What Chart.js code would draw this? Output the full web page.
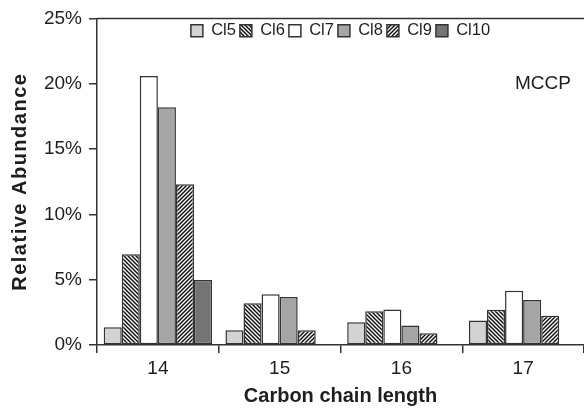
<!DOCTYPE html>
<html>
<head>
<meta charset="utf-8">
<script src="https://cdn.jsdelivr.net/npm/chart.js@4.4.1/dist/chart.umd.min.js"></script>
<style>
  html, body { margin: 0; padding: 0; background: #fff; }
  #wrap { width: 584px; height: 412px; }
</style>
</head>
<body>
<div id="wrap"><canvas id="chart" width="584" height="412"></canvas></div>
<script>
// relative abundance (%) of chlorine homologues per carbon chain length
const categories = ["14", "15", "16", "17"];
const seriesNames = ["Cl5", "Cl6", "Cl7", "Cl8", "Cl9", "Cl10"];
const cl5 = [1.35, 1.13, 1.75, 1.88];
const cl6 = [6.95, 3.19, 2.58, 2.7];
const cl7 = [20.6, 3.89, 2.71, 4.16];
const cl8 = [18.2, 3.67, 1.5, 3.44];
const cl9 = [12.3, 1.13, 0.9, 2.23];
const cl10 = [4.97, null, null, null];
const yTicks = [0, 5, 10, 15, 20, 25];

const FONT = "'Liberation Sans', Arial, sans-serif";
const INK = "#1e1e1e";
const LINE = "#333";

// diagonal hatch fill, "back" = \\\ , otherwise ///
function hatch(dir) {
  const s = 4;
  const c = document.createElement("canvas");
  c.width = c.height = s;
  const g = c.getContext("2d");
  g.fillStyle = "#fff";
  g.fillRect(0, 0, s, s);
  g.strokeStyle = "#111";
  g.lineWidth = 1.5;
  g.beginPath();
  if (dir === "back") {
    g.moveTo(-1, -1); g.lineTo(s + 1, s + 1);
    g.moveTo(-1, s - 1); g.lineTo(1, s + 1);
    g.moveTo(s - 1, -1); g.lineTo(s + 1, 1);
  } else {
    g.moveTo(-1, s + 1); g.lineTo(s + 1, -1);
    g.moveTo(-1, 1); g.lineTo(1, -1);
    g.moveTo(s - 1, s + 1); g.lineTo(s + 1, s - 1);
  }
  g.stroke();
  return g.createPattern(c, "repeat");
}

const values = [cl5, cl6, cl7, cl8, cl9, cl10];
const fills = ["#d3d3d3", hatch("back"), "#ffffff", "#a5a5a5", hatch("fwd"), "#747474"];

// legend inside the plot, top frame line, MCCP label
const extras = {
  id: "extras",
  afterInit(chart) {
    // legend takes no layout height, so the plot starts right under the padding
    const lg = chart.legend;
    if (lg) {
      const fit = lg.fit;
      lg.fit = function () {
        fit.call(this);
        this._realHeight = this.height;
        this.height = 0;
      };
    }
  },
  afterLayout(chart) {
    const lg = chart.legend;
    if (lg && lg._realHeight) {
      lg.height = lg._realHeight;
      lg.bottom = lg.top + lg.height;
    }
  },
  beforeDraw(chart) {
    const y = chart.scales.y;
    if (y && !y._spaced) {
      const orig = y.drawTitle;
      y.drawTitle = function () {
        const c = this.ctx;
        const prev = c.letterSpacing;
        c.letterSpacing = "1.5px";
        orig.call(this);
        c.letterSpacing = prev;
      };
      y._spaced = true;
    }
  },
  afterDraw(chart) {
    const { ctx, chartArea } = chart;
    ctx.save();
    ctx.strokeStyle = LINE;
    ctx.lineWidth = 1.5;
    ctx.beginPath();
    ctx.moveTo(chartArea.left, chartArea.top);
    ctx.lineTo(chart.width, chartArea.top);
    ctx.stroke();
    ctx.fillStyle = INK;
    ctx.font = "19px " + FONT;
    ctx.textBaseline = "middle";
    ctx.fillText("MCCP", chartArea.right - 69, chart.scales.y.getPixelForValue(20));
    ctx.restore();
  },
};

const ctx = document.getElementById("chart").getContext("2d");
new Chart(ctx, {
  type: "bar",
  data: {
    labels: categories,
    datasets: seriesNames.map((name, i) => ({
      label: name,
      data: values[i],
      backgroundColor: fills[i],
      borderColor: LINE,
      borderWidth: 1.5,
      borderSkipped: false,
      categoryPercentage: 0.89,
      barPercentage: 1.0,
    })),
  },
  options: {
    responsive: false,
    animation: false,
    layout: { padding: { left: 0, right: -5, top: 13, bottom: 0 } },
    plugins: {
      legend: {
        position: "top",
        fullSize: false,
        labels: {
          font: { size: 16.5, family: FONT },
          color: INK,
          boxWidth: 12,
          boxHeight: 12,
          padding: 4,
        },
      },
      tooltip: { enabled: false },
    },
    scales: {
      x: {
        grid: { offset: true, drawOnChartArea: false, drawTicks: true, tickLength: 8, color: LINE, lineWidth: 1.5 },
        border: { color: LINE, width: 1.5 },
        ticks: { font: { size: 19, family: FONT }, color: INK, padding: 4 },
        title: {
          display: true,
          text: "Carbon chain length",
          font: { size: 20, weight: "bold", family: FONT },
          color: INK,
          padding: { top: 0, bottom: 4 },
        },
        afterFit(s) { s.height = 67; },
      },
      y: {
        min: 0,
        max: 25,
        afterBuildTicks(s) { s.ticks = yTicks.map((v) => ({ value: v })); },
        grid: { drawOnChartArea: false, drawTicks: true, tickLength: 8, color: LINE, lineWidth: 1.5 },
        border: { color: LINE, width: 1.5 },
        ticks: { font: { size: 19, family: FONT }, color: INK, padding: 7, callback: (v) => v + "%" },
        title: {
          display: true,
          text: "Relative Abundance",
          font: { size: 20, weight: "bold", family: FONT },
          color: INK,
          padding: { top: 8, bottom: 0 },
        },
        afterFit(s) { s.width = 97; },
      },
    },
  },
  plugins: [extras],
});
</script>
</body>
</html>
